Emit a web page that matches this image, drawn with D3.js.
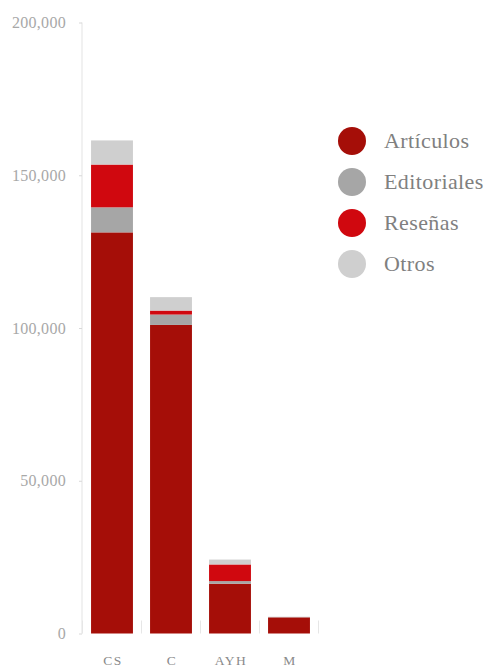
<!DOCTYPE html>
<html><head><meta charset="utf-8">
<script src="https://cdn.jsdelivr.net/npm/d3@7"></script>
<style>body{margin:0;background:#fff}</style>
</head><body>
<svg id="c" width="488" height="668"></svg>
<script>
const categories = ["CS", "C", "AYH", "M"];
const seriesNames = ["Artículos", "Editoriales", "Reseñas", "Otros"];
const articulos   = [131300, 101000, 16300, 5300];
const editoriales = [8200, 3400, 850, 0];
const resenas     = [14000, 1300, 5450, 0];
const otros       = [7900, 4400, 1600, 200];
const yTicks = [0, 50000, 100000, 150000, 200000];
const colors = ["#a50e08", "#a6a6a6", "#d0080f", "#cfcfcf"];

const svg = d3.select("#c");
const font = "'Liberation Serif', 'DejaVu Serif', serif";
const rows = categories.map((c, i) => ({cat: c, "Artículos": articulos[i], "Editoriales": editoriales[i], "Reseñas": resenas[i], "Otros": otros[i]}));
const stack = d3.stack().keys(seriesNames)(rows);

const x = d3.scaleBand().domain(categories).range([82.5, 318.5]).paddingInner(0.29).paddingOuter(0.145);
const y = d3.scaleLinear().domain([0, 200000]).range([633.5, 22.5]);

// y axis
const ya = svg.append("g").attr("transform", "translate(82,0)")
  .call(d3.axisLeft(y).tickValues(yTicks).tickFormat(d3.format(",")).tickSize(3).tickPadding(13));
ya.select(".domain").attr("stroke", "#e3e3e3").attr("d", `M0,${y(200000)}V${y(0)}`);
ya.selectAll(".tick line").attr("stroke", "#d8d8d8");
ya.selectAll(".tick text").attr("fill", "#a8a8a8").style("font-family", font).style("font-size", "16px").style("letter-spacing", "0.3px");

// x band boundary ticks
const bounds = [82.5].concat(categories.map(c => x(c) + x.bandwidth() + x.step()*x.paddingInner()/2));
svg.append("g").selectAll("line").data(bounds).join("line")
  .attr("x1", d => d).attr("x2", d => d).attr("y1", y(0) - 13).attr("y2", y(0))
  .attr("stroke", "#e6e6e6");

// bars
svg.append("g").selectAll("g").data(stack).join("g")
  .attr("fill", (d, i) => colors[i])
  .selectAll("rect").data(d => d).join("rect")
  .attr("x", d => x(d.data.cat)).attr("width", x.bandwidth())
  .attr("y", d => y(d[1])).attr("height", d => Math.max(0, y(d[0]) - y(d[1])));

// x labels
svg.append("g").selectAll("text").data(categories).join("text")
  .attr("x", d => x(d) + x.bandwidth()/2 + 1).attr("y", 665)
  .attr("text-anchor", "middle").attr("fill", "#8a8a8a")
  .style("font-family", font).style("font-size", "13.5px").style("letter-spacing", "1.5px")
  .text(d => d);

// legend
const lg = svg.append("g").selectAll("g").data(seriesNames).join("g")
  .attr("transform", (d, i) => `translate(352,${141 + i*41})`);
lg.append("circle").attr("r", 14).attr("fill", (d, i) => colors[i]);
lg.append("text").attr("x", 32).attr("dy", "0.33em").attr("fill", "#808080")
  .style("font-family", font).style("font-size", "22px").style("letter-spacing", "0.4px").text(d => d);
</script>
</body></html>
